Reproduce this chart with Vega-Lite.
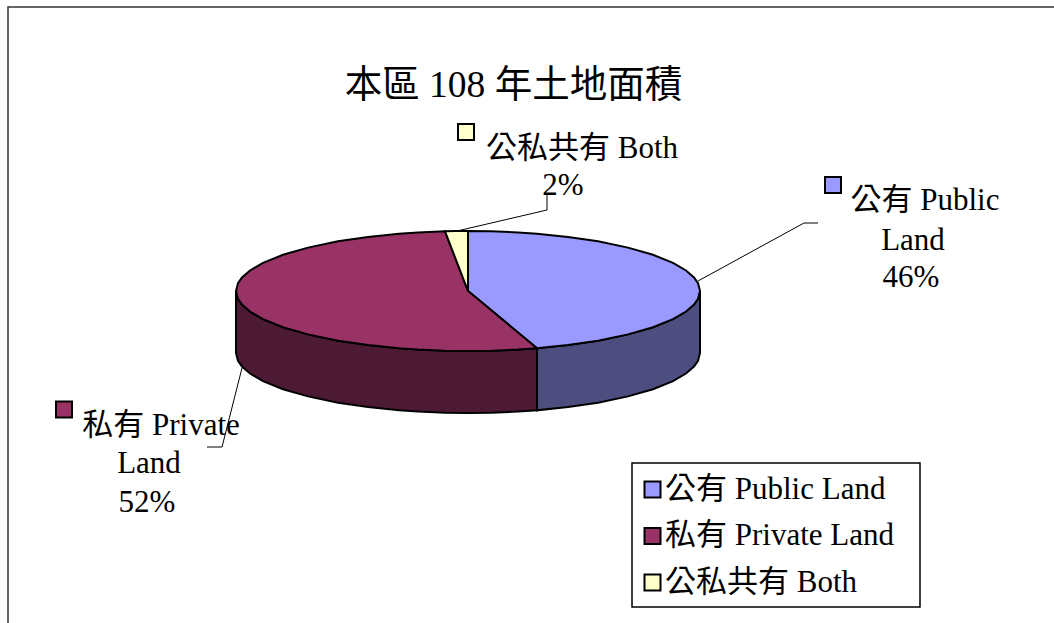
{
"$schema":"https://vega.github.io/schema/vega-lite/v6.json",
"width":1054,"height":623,"autosize":"none","padding":0,"background":"white",
"title":{"text":"本區 108 年土地面積","font":"Liberation Serif, Noto Sans CJK TC","fontSize":37.5,"fontWeight":"normal","color":"black","anchor":"middle","offset":0,"dy":104,"dx":-13.5},
"config":{"view":{"stroke":null},"font":"Liberation Serif, Noto Sans CJK TC"},
"datasets":{
"top":[
{"series":"公有 Public Land","dx":0,"upper":60,"lower":0},
{"series":"公有 Public Land","dx":23,"upper":59.7,"lower":-19.1},
{"series":"公有 Public Land","dx":50,"upper":58.6,"lower":-41.5},
{"series":"公有 Public Land","dx":69,"upper":57.3,"lower":-57.3},
{"series":"公有 Public Land","dx":100,"upper":54.1,"lower":-54.1},
{"series":"公有 Public Land","dx":130,"upper":49.7,"lower":-49.7},
{"series":"公有 Public Land","dx":160,"upper":43.4,"lower":-43.4},
{"series":"公有 Public Land","dx":185,"upper":36.2,"lower":-36.2},
{"series":"公有 Public Land","dx":205,"upper":28.1,"lower":-28.1},
{"series":"公有 Public Land","dx":218,"upper":20.5,"lower":-20.5},
{"series":"公有 Public Land","dx":226,"upper":13.6,"lower":-13.6},
{"series":"公有 Public Land","dx":230,"upper":7.9,"lower":-7.9},
{"series":"公有 Public Land","dx":232,"upper":0,"lower":0},
{"series":"私有 Private Land","dx":-232,"upper":0,"lower":0},
{"series":"私有 Private Land","dx":-230,"upper":7.9,"lower":-7.9},
{"series":"私有 Private Land","dx":-226,"upper":13.6,"lower":-13.6},
{"series":"私有 Private Land","dx":-218,"upper":20.5,"lower":-20.5},
{"series":"私有 Private Land","dx":-205,"upper":28.1,"lower":-28.1},
{"series":"私有 Private Land","dx":-185,"upper":36.2,"lower":-36.2},
{"series":"私有 Private Land","dx":-160,"upper":43.4,"lower":-43.4},
{"series":"私有 Private Land","dx":-130,"upper":49.7,"lower":-49.7},
{"series":"私有 Private Land","dx":-100,"upper":54.1,"lower":-54.1},
{"series":"私有 Private Land","dx":-69,"upper":57.3,"lower":-57.3},
{"series":"私有 Private Land","dx":-50,"upper":58.6,"lower":-58.6},
{"series":"私有 Private Land","dx":-23,"upper":59.7,"lower":-59.7},
{"series":"私有 Private Land","dx":0,"upper":0,"lower":-60},
{"series":"私有 Private Land","dx":23,"upper":-19.1,"lower":-59.7},
{"series":"私有 Private Land","dx":50,"upper":-41.5,"lower":-58.6},
{"series":"私有 Private Land","dx":69,"upper":-57.3,"lower":-57.3},
{"series":"公私共有 Both","dx":-23,"upper":59.7,"lower":59.7},
{"series":"公私共有 Both","dx":-12,"upper":59.9,"lower":31.1},
{"series":"公私共有 Both","dx":0,"upper":60,"lower":0}
],
"side":[
{"series":"公有 Public Land","dx":69,"upper":-57.3,"lower":-119.3},
{"series":"公有 Public Land","dx":100,"upper":-54.1,"lower":-116.1},
{"series":"公有 Public Land","dx":130,"upper":-49.7,"lower":-111.7},
{"series":"公有 Public Land","dx":160,"upper":-43.4,"lower":-105.4},
{"series":"公有 Public Land","dx":185,"upper":-36.2,"lower":-98.2},
{"series":"公有 Public Land","dx":205,"upper":-28.1,"lower":-90.1},
{"series":"公有 Public Land","dx":218,"upper":-20.5,"lower":-82.5},
{"series":"公有 Public Land","dx":226,"upper":-13.6,"lower":-75.6},
{"series":"公有 Public Land","dx":230,"upper":-7.9,"lower":-69.9},
{"series":"公有 Public Land","dx":232,"upper":0,"lower":-62},
{"series":"私有 Private Land","dx":-232,"upper":0,"lower":-62},
{"series":"私有 Private Land","dx":-230,"upper":-7.9,"lower":-69.9},
{"series":"私有 Private Land","dx":-226,"upper":-13.6,"lower":-75.6},
{"series":"私有 Private Land","dx":-218,"upper":-20.5,"lower":-82.5},
{"series":"私有 Private Land","dx":-205,"upper":-28.1,"lower":-90.1},
{"series":"私有 Private Land","dx":-185,"upper":-36.2,"lower":-98.2},
{"series":"私有 Private Land","dx":-160,"upper":-43.4,"lower":-105.4},
{"series":"私有 Private Land","dx":-130,"upper":-49.7,"lower":-111.7},
{"series":"私有 Private Land","dx":-100,"upper":-54.1,"lower":-116.1},
{"series":"私有 Private Land","dx":-69,"upper":-57.3,"lower":-119.3},
{"series":"私有 Private Land","dx":-50,"upper":-58.6,"lower":-120.6},
{"series":"私有 Private Land","dx":-23,"upper":-59.7,"lower":-121.7},
{"series":"私有 Private Land","dx":0,"upper":-60,"lower":-122},
{"series":"私有 Private Land","dx":23,"upper":-59.7,"lower":-121.7},
{"series":"私有 Private Land","dx":50,"upper":-58.6,"lower":-120.6},
{"series":"私有 Private Land","dx":69,"upper":-57.3,"lower":-119.3}
],
"leaders":[
{"series":"公私共有 Both","step":1,"dx":-11,"dy":60},
{"series":"公私共有 Both","step":2,"dx":79,"dy":81},
{"series":"公私共有 Both","step":3,"dx":79,"dy":96},
{"series":"公有 Public Land","step":1,"dx":230,"dy":10},
{"series":"公有 Public Land","step":2,"dx":336,"dy":68},
{"series":"公有 Public Land","step":3,"dx":350,"dy":68},
{"series":"私有 Private Land","step":1,"dx":-226,"dy":-77},
{"series":"私有 Private Land","step":2,"dx":-246,"dy":-156},
{"series":"私有 Private Land","step":3,"dx":-261,"dy":-156}
],
"frameLine":[
{"step":1,"dx":-460,"dy":-332},
{"step":2,"dx":-460,"dy":284},
{"step":3,"dx":586,"dy":284}
],
"keys":[
{"series":"公有 Public Land","dx":365,"dy":106},
{"series":"私有 Private Land","dx":-404,"dy":-118.5},
{"series":"公私共有 Both","dx":-2,"dy":159}
],
"labels":[
{"line":"公私共有 Both","dx":114,"dy":133},
{"line":"2%","dx":95,"dy":96},
{"line":"公有 Public","dx":457,"dy":81},
{"line":"Land","dx":445,"dy":41},
{"line":"46%","dx":443,"dy":4},
{"line":"私有 Private","dx":-307,"dy":-144},
{"line":"Land","dx":-319,"dy":-182},
{"line":"52%","dx":-321,"dy":-221}
],
"legendBox":[{"dx":164,"dx2":452,"dy":-172,"dy2":-316}]
},
"layer":[
{"data":{"name":"frameLine"},"mark":{"type":"line","stroke":"#333333","strokeWidth":1.5},
 "encoding":{"x":{"field":"dx","type":"quantitative","scale":{"domain":[-468,586],"nice":false,"zero":false},"axis":null},
 "y":{"field":"dy","type":"quantitative","scale":{"domain":[-332,291],"nice":false,"zero":false},"axis":null},"order":{"field":"step"}}},
{"data":{"name":"legendBox"},"mark":{"type":"rect","fill":"white","stroke":"black","strokeWidth":1.5},
 "encoding":{"x":{"field":"dx","type":"quantitative"},"x2":{"field":"dx2"},"y":{"field":"dy","type":"quantitative"},"y2":{"field":"dy2"}}},
{"data":{"name":"side"},"mark":{"type":"area","stroke":"black","strokeWidth":2},
 "encoding":{"x":{"field":"dx","type":"quantitative"},"y":{"field":"upper","type":"quantitative","stack":null},"y2":{"field":"lower"},
 "fill":{"field":"series","type":"nominal","legend":null,"scale":{"domain":["公有 Public Land","私有 Private Land"],"range":["#4D4D80","#4D1A33"]}}}},
{"data":{"name":"top"},"mark":{"type":"area","stroke":"black","strokeWidth":2},
 "encoding":{"x":{"field":"dx","type":"quantitative"},"y":{"field":"upper","type":"quantitative","stack":null},"y2":{"field":"lower"},
 "color":{"field":"series","type":"nominal","title":null,
  "scale":{"domain":["公有 Public Land","私有 Private Land","公私共有 Both"],"range":["#9999FF","#993366","#FFFFCC"]},
  "legend":{"orient":"none","legendX":637,"legendY":474,"symbolType":"square","symbolSize":256,"symbolStrokeColor":"black","symbolStrokeWidth":2,"symbolOpacity":1,"labelFont":"Liberation Serif, Noto Sans CJK TC","labelFontSize":31,"labelColor":"black","labelOffset":-3,"rowPadding":14.5,"padding":0,"labelLimit":400}}}},
{"data":{"name":"leaders"},"mark":{"type":"line","stroke":"black","strokeWidth":1},
 "encoding":{"x":{"field":"dx","type":"quantitative"},"y":{"field":"dy","type":"quantitative"},"detail":{"field":"series"},"order":{"field":"step"}}},
{"data":{"name":"keys"},"mark":{"type":"point","shape":"square","filled":true,"size":256,"stroke":"black","strokeWidth":2,"opacity":1},
 "encoding":{"x":{"field":"dx","type":"quantitative"},"y":{"field":"dy","type":"quantitative"},
 "color":{"field":"series","type":"nominal"}}},
{"data":{"name":"labels"},"mark":{"type":"text","fontSize":31,"font":"Liberation Serif, Noto Sans CJK TC","color":"black","align":"center","baseline":"alphabetic"},
 "encoding":{"x":{"field":"dx","type":"quantitative"},"y":{"field":"dy","type":"quantitative"},"text":{"field":"line"}}}
]
}
